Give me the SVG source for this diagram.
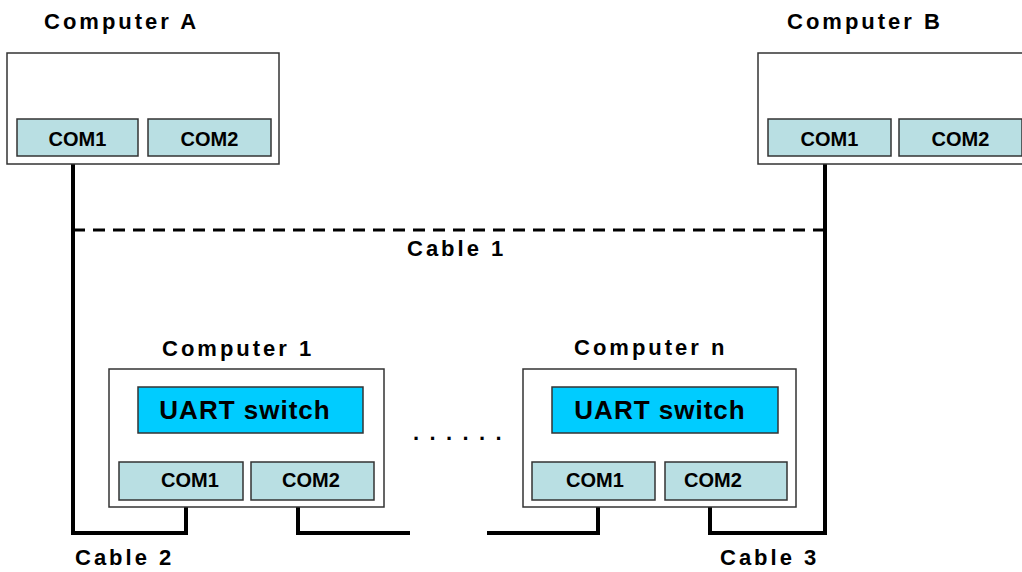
<svg xmlns="http://www.w3.org/2000/svg" width="1022" height="572" viewBox="0 0 1022 572">
<style>
.box{fill:#fff;stroke:#333;stroke-width:1.5}
.com{fill:#b9dfe3;stroke:#333;stroke-width:1.5}
.uart{fill:#00ccff;stroke:#333;stroke-width:1.5}
.lbl{font-family:"Liberation Sans",Arial,sans-serif;font-weight:bold;font-size:22px;letter-spacing:3px;fill:#000}
.ctxt{font-family:"Liberation Sans",Arial,sans-serif;font-weight:bold;font-size:20px;fill:#000;text-anchor:middle}
.utxt{font-family:"Liberation Sans",Arial,sans-serif;font-weight:bold;font-size:26px;letter-spacing:1px;fill:#000;text-anchor:middle}
.cable{fill:none;stroke:#000;stroke-width:4}
.red{stroke:#ff0000;stroke-width:4}
</style>
<rect width="1022" height="572" fill="#fff"/>
<g id="connectors">
<line x1="73" y1="230" x2="825" y2="230" stroke="#000" stroke-width="3" stroke-dasharray="12 8"/>
<polyline class="cable" points="73,156 73,533 186,533 186,500"/>
<polyline class="cable" points="298,500 298,533 410,533"/>
<polyline class="cable" points="487,533 598,533 598,500"/>
<polyline class="cable" points="710,500 710,533 825,533 825,156"/>
<line class="red" x1="186" y1="433" x2="186" y2="462"/>
<line class="red" x1="298" y1="433" x2="298" y2="462"/>
<line class="red" x1="598" y1="433" x2="598" y2="462"/>
<line class="red" x1="710" y1="433" x2="710" y2="462"/>
</g>
<g id="computerA">
<text class="lbl" x="44" y="29">Computer A</text>
<rect class="box" x="7" y="53" width="272" height="111"/>
<rect class="com" x="17" y="119" width="121" height="37"/>
<text class="ctxt" x="77.5" y="146">COM1</text>
<rect class="com" x="148" y="119" width="123" height="37"/>
<text class="ctxt" x="209.5" y="146">COM2</text>
</g>
<g id="computerB">
<text class="lbl" x="787" y="29">Computer B</text>
<rect class="box" x="758" y="53" width="280" height="111"/>
<rect class="com" x="768" y="119" width="123" height="37"/>
<text class="ctxt" x="829.5" y="146">COM1</text>
<rect class="com" x="899" y="119" width="123" height="37"/>
<text class="ctxt" x="960.5" y="146">COM2</text>
</g>
<g id="cable1"><text class="lbl" x="407" y="256">Cable 1</text></g>
<g id="computer1">
<text class="lbl" x="162" y="356">Computer 1</text>
<rect class="box" x="109" y="369" width="275" height="138"/>
<rect class="uart" x="138" y="387" width="225" height="46"/>
<text class="utxt" x="245" y="419">UART switch</text>
<rect class="com" x="119" y="462" width="124" height="38"/>
<text class="ctxt" x="190" y="487">COM1</text>
<rect class="com" x="251" y="462" width="123" height="38"/>
<text class="ctxt" x="311" y="487">COM2</text>
</g>
<g id="dots"><text class="lbl" x="413" y="440" style="letter-spacing:10.4px">......</text></g>
<g id="computerN">
<text class="lbl" x="574" y="355">Computer n</text>
<rect class="box" x="523" y="369" width="273" height="138"/>
<rect class="uart" x="552" y="387" width="226" height="46"/>
<text class="utxt" x="660" y="419">UART switch</text>
<rect class="com" x="532" y="462" width="123" height="38"/>
<text class="ctxt" x="595" y="487">COM1</text>
<rect class="com" x="665" y="462" width="122" height="38"/>
<text class="ctxt" x="713" y="487">COM2</text>
</g>
<g id="cable2"><text class="lbl" x="75" y="565">Cable 2</text></g>
<g id="cable3"><text class="lbl" x="720" y="565">Cable 3</text></g>
</svg>
